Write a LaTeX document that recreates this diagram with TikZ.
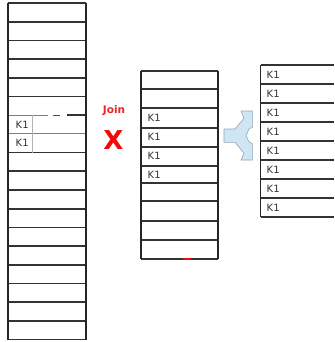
\documentclass[tikz,border=0pt]{standalone}
\usepackage{fontspec}
\setmainfont{DejaVu Sans}
\definecolor{joinred}{HTML}{E8262A}
\definecolor{xred}{HTML}{F00A0A}
\definecolor{forkfill}{HTML}{CFE5F4}
\definecolor{forkedge}{HTML}{8FA8BC}
\begin{document}
\begin{tikzpicture}[x=1pt,y=-1pt,
  tbl/.style={draw=black!85, line width=1.8pt},
  rowline/.style={draw=black!80, line width=1.7pt},
  thinrow/.style={draw=black!50, line width=0.9pt},
  key/.style={font=\fontsize{10}{10}\selectfont, text=black!80, anchor=west, inner sep=0pt},
]
\useasboundingbox[fill=white] (0,0) rectangle (334,342);

% ---------- left table ----------
\foreach \i in {0,...,5,8,9,...,18}
  \draw[rowline] (8,{3+18.7*\i}) -- (86,{3+18.7*\i});
\draw[thinrow] (8,115.2) -- (48,115.2);
\draw[rowline] (67,115.2) -- (86,115.2);
\draw[xred, line width=1.2pt] (53,115.2) -- (60,115.2);
\draw[thinrow] (8,133.9) -- (86,133.9);
\draw[draw=black!30, line width=0.6pt] (32.7,115.2) -- (32.7,152.6);
\draw[tbl] (8,3) -- (8,339.6);
\draw[tbl] (86,3) -- (86,339.6);
\node[key] (l1) at (15.5,124.6) {K1};
\node[key] (l2) at (15.5,143.3) {K1};

% ---------- join symbol ----------
\node[font=\bfseries\fontsize{10.5}{11}\selectfont, text=joinred, inner sep=0pt] (join) at (114,110.5) {Join};
\node[font=\bfseries\fontsize{26}{26}\selectfont, text=xred, inner sep=0pt] (x) at (113.3,140.5) {X};

% ---------- middle table ----------
\foreach \y in {71,89.3,108.3,127.7,146.7,166,182.7,201.3,220.7,240,259}
  \draw[rowline] (141,\y) -- (218.3,\y);
\draw[tbl] (141,71) -- (141,259);
\draw[tbl] (218.3,71) -- (218.3,259);
\draw[xred, line width=1.2pt] (183,259) -- (191,259);
\node[key] (m1) at (147.5,118) {K1};
\node[key] (m2) at (147.5,137.2) {K1};
\node[key] (m3) at (147.5,156.3) {K1};
\node[key] (m4) at (147.5,174.5) {K1};

% ---------- fork arrow ----------
\filldraw[fill=forkfill, draw=forkedge, line width=0.6pt]
  (224,129) -- (235,129) -- (244,118.3) -- (241,111) -- (252.3,111)
  -- (252.3,127.7) -- (249.3,128.3) -- (246,135.7) -- (249.3,142.3)
  -- (252.3,143.3) -- (252.3,160) -- (241,160) -- (244,153.3)
  -- (235,142.3) -- (224,142.3) -- cycle;

% ---------- right table ----------
\foreach \i in {0,...,8}
  \draw[rowline] (260.5,{65+19*\i}) -- (334,{65+19*\i});
\draw[tbl] (260.5,65) -- (260.5,217);
\foreach \i in {0,...,7}
  \node[key] (r\i) at (266.5,{75+19*\i}) {K1};
\end{tikzpicture}
\end{document}
